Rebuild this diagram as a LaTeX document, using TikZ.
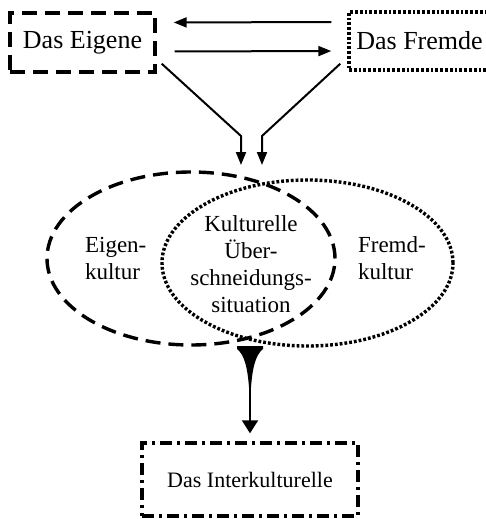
\documentclass[tikz,border=0pt]{standalone}
\usepackage{fontspec}
\setmainfont{Liberation Serif}
\usetikzlibrary{arrows.meta,shapes.geometric}

\begin{document}
\begin{tikzpicture}[x=0.5pt,y=-0.5pt,
        box/.style = {rectangle, line width=1.7pt, inner sep=0pt, font=\fontsize{13}{15}\selectfont},
        kultur/.style = {ellipse, line width=1.7pt, inner sep=0pt},
        gestrichelt/.style = {dash pattern=on 7.5pt off 4pt},
        gepunktet/.style = {line width=1.7pt, dash pattern=on 1.4pt off 1pt},
        pfeil/.style = {line width=1pt, -{Triangle[length=6.5pt,width=5pt]}},
        txt/.style = {align=left, font=\fontsize{11.5}{13.5}\selectfont}]
    \useasboundingbox (0,0) rectangle (486,519);

    % Das Eigene
    \node[box, gestrichelt, draw, minimum width=72.5pt, minimum height=29.5pt] (eigene) at (82.5,42.5) {Das Eigene};

    % Das Fremde
    \node[box, gepunktet, draw, minimum width=70.5pt, minimum height=29pt] (fremde) at (419.5,41) {Das Fremde};

    % Pfeile oben
    \draw[pfeil, shorten <=8pt, shorten >=8.5pt] ([yshift=9.5pt]fremde.west) -- ([yshift=10pt]eigene.east);
    \draw[pfeil, shorten <=9pt, shorten >=8pt] ([yshift=-4.5pt]eigene.east) -- ([yshift=-5pt]fremde.west);

    % Eigenkultur und Fremdkultur
    \node[kultur, draw, gestrichelt, minimum width=144pt, minimum height=86.5pt] (eigenkultur) at (191,258.5) {};
    \node[kultur, draw, gepunktet, minimum width=145.5pt, minimum height=83pt] (fremdkultur) at (307.5,263) {};

    \node[txt, anchor=west] (eigentxt) at (78,258) {Eigen-\\kultur};
    \node[txt, anchor=west] (fremdtxt) at (351,258) {Fremd-\\kultur};
    \node[txt, align=center] (mitte) at (251,264) {Kulturelle\\Über-\\schneidungs-\\situation};

    % Pfeile in die Ellipsen
    \coordinate (inL) at (241,165);
    \coordinate (inR) at (262,165);
    \draw[pfeil] ([xshift=2.5pt,yshift=5pt]eigene.south east) -- (241,136) -- (inL);
    \draw[pfeil] ([xshift=-3.5pt,yshift=4pt]fremde.south west) -- (262,136) -- (inR);

    % Das Interkulturelle
    \node[box, draw, dash pattern=on 6pt off 2.5pt on 1.5pt off 2.5pt, font=\fontsize{11}{13}\selectfont,
          minimum width=108pt, minimum height=36.5pt] (inter) at (250,479.5) {Das Interkulturelle};

    % Trichter
    \coordinate (meet) at (250,347);
    \fill (237,346) -- (263,346) -- (263,349) .. controls (255,355) and (252,370) .. (250.7,392) -- (249.3,392)
          .. controls (248,370) and (245,355) .. (237,349) -- cycle;
    \draw[line width=1pt, -{Triangle[length=6.5pt,width=8pt]}, shorten >=4pt] (meet) -- (inter.north);
\end{tikzpicture}
\end{document}
